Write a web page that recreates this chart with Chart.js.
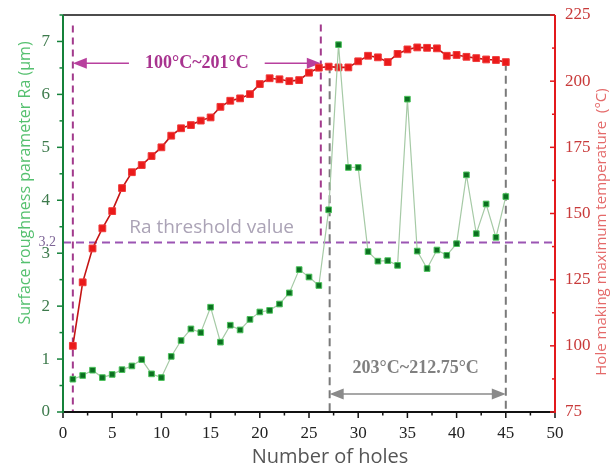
<!DOCTYPE html>
<html>
<head>
<meta charset="utf-8">
<script src="https://cdn.jsdelivr.net/npm/chart.js@4.4.1/dist/chart.umd.min.js"></script>
<style>
  body { margin: 0; background: #fff; }
  canvas { display: block; }
</style>
</head>
<body>
<canvas id="chart" width="613" height="470"></canvas>
<script>
// hole index
const holes = [1, 2, 3, 4, 5, 6, 7, 8, 9, 10, 11, 12, 13, 14, 15, 16, 17, 18, 19, 20,
  21, 22, 23, 24, 25, 26, 27, 28, 29, 30, 31, 32, 33, 34, 35, 36, 37, 38, 39, 40,
  41, 42, 43, 44, 45];

// surface roughness Ra (um), left axis
const roughness = [0.62, 0.69, 0.79, 0.65, 0.71, 0.80, 0.87, 0.99, 0.72, 0.65,
  1.05, 1.35, 1.57, 1.50, 1.98, 1.32, 1.64, 1.55, 1.75, 1.89,
  1.92, 2.04, 2.25, 2.69, 2.55, 2.39, 3.82, 6.94, 4.62, 4.62,
  3.03, 2.85, 2.86, 2.77, 5.91, 3.04, 2.71, 3.06, 2.96, 3.18,
  4.48, 3.37, 3.93, 3.30, 4.07];

// max hole-making temperature (°C), right axis
const temperature = [100, 124.0, 136.8, 144.4, 150.9, 159.6, 165.6, 168.3, 171.7, 175.0,
  179.4, 182.2, 183.4, 185.1, 186.3, 190.3, 192.6, 193.5, 195.1, 198.9,
  201.1, 200.7, 200.0, 200.4, 203.2, 205.1, 205.5, 205.2, 205.2, 207.5,
  209.6, 209.0, 207.2, 210.3, 212.0, 212.75, 212.6, 212.4, 209.6, 209.9,
  209.2, 208.7, 208.2, 208.0, 207.2];

const xTicks = [0, 5, 10, 15, 20, 25, 30, 35, 40, 45, 50];
const raTicks = [0, 1, 2, 3, 4, 5, 6, 7];
const tempTicks = [75, 100, 125, 150, 175, 200, 225];

// annotation values
const raThreshold = 3.2;
const heatingRange = [1, 26.2];
const stableRange = [27.1, 45];
const heatingLabel = '100°C~201°C';
const stableLabel = '203°C~212.75°C';

const SERIF = "'Liberation Serif', 'Times New Roman', serif";
const SANS = "'Open Sans', 'Noto Sans', sans-serif";

function line(ctx, x0, y0, x1, y1, color, width, dash) {
  ctx.save();
  ctx.strokeStyle = color;
  ctx.lineWidth = width;
  ctx.setLineDash(dash || []);
  ctx.beginPath();
  ctx.moveTo(x0, y0);
  ctx.lineTo(x1, y1);
  ctx.stroke();
  ctx.restore();
}

function arrowHead(ctx, tipX, y, dir, color) {
  ctx.save();
  ctx.fillStyle = color;
  ctx.beginPath();
  ctx.moveTo(tipX, y);
  ctx.lineTo(tipX + dir * 14, y - 5.5);
  ctx.lineTo(tipX + dir * 14, y + 5.5);
  ctx.closePath();
  ctx.fill();
  ctx.restore();
}

function text(ctx, str, x, y, font, color, rot) {
  ctx.save();
  ctx.translate(x, y);
  if (rot) ctx.rotate(rot);
  ctx.font = font;
  ctx.fillStyle = color;
  ctx.textAlign = 'center';
  ctx.textBaseline = 'middle';
  ctx.fillText(str, 0, 0);
  ctx.restore();
}

const decor = {
  id: 'decor',
  beforeDatasetsDraw(chart) {
    const { ctx, chartArea: a, scales: { x, y } } = chart;
    const purple = '#a23a8c';
    const grey = '#7a7a7a';

    // Ra threshold
    const yT = y.getPixelForValue(raThreshold);
    line(ctx, a.left, yT, a.right, yT, '#9b55b3', 2, [8, 5]);
    text(ctx, 'Ra threshold value', x.getPixelForValue(15.1), y.getPixelForValue(3.49),
      '19px ' + SANS, '#aba3b6');

    // heating stage
    const h0 = x.getPixelForValue(heatingRange[0]);
    const h1 = x.getPixelForValue(heatingRange[1]);
    line(ctx, h0, y.getPixelForValue(7.3), h0, a.bottom, purple, 2, [7, 5]);
    line(ctx, h1, y.getPixelForValue(7.32), h1, y.getPixelForValue(3.3), purple, 2, [7, 5]);
    const yA = y.getPixelForValue(6.59);
    const mid = (h0 + h1) / 2;
    ctx.font = 'bold 18px ' + SERIF;
    const hw = ctx.measureText(heatingLabel).width / 2 + 16;
    line(ctx, h0 + 10, yA, mid - hw, yA, '#b8409e', 1.5);
    line(ctx, mid + hw, yA, h1 - 10, yA, '#b8409e', 1.5);
    arrowHead(ctx, h0, yA, 1, '#b8409e');
    arrowHead(ctx, h1, yA, -1, '#b8409e');
    text(ctx, heatingLabel, mid, yA, 'bold 18px ' + SERIF, '#a8338f');

    // stable stage
    const s0 = x.getPixelForValue(stableRange[0]);
    const s1 = x.getPixelForValue(stableRange[1]);
    line(ctx, s0, y.getPixelForValue(6.55), s0, a.bottom, grey, 2, [8, 5]);
    line(ctx, s1, y.getPixelForValue(6.6), s1, a.bottom, grey, 2, [8, 5]);
    const yB = y.getPixelForValue(0.34);
    line(ctx, s0 + 10, yB, s1 - 10, yB, '#8a8a8a', 1.5);
    arrowHead(ctx, s0, yB, 1, '#8a8a8a');
    arrowHead(ctx, s1, yB, -1, '#8a8a8a');
    text(ctx, stableLabel, (s0 + s1) / 2 - 2, y.getPixelForValue(0.83), 'bold 18px ' + SERIF, '#808080');
  },
  afterDraw(chart) {
    const { ctx, chartArea: a, scales: { x, y, y1 } } = chart;
    const green = '#15823a';
    const red = '#e3191c';

    // frame
    line(ctx, a.left, a.top, a.right, a.top, '#111', 1.5);
    line(ctx, a.left, a.bottom, a.right, a.bottom, '#111', 2);

    // x ticks (major + minor)
    for (let v = 0; v <= 50; v += 2.5) {
      const px = x.getPixelForValue(v);
      line(ctx, px, a.bottom, px, a.bottom + (v % 5 === 0 ? 6 : 3.5), '#111', 1.5);
    }
    // left ticks
    for (let v = 0; v <= 7.5; v += 0.5) {
      const py = y.getPixelForValue(v);
      line(ctx, a.left, py, a.left - (v % 1 === 0 ? 6 : 3.5), py, green, 1.5);
    }
    // right ticks, pointing inward
    for (let v = 75; v <= 225; v += 12.5) {
      const py = y1.getPixelForValue(v);
      line(ctx, a.right, py, a.right - (v % 25 === 0 ? 5 : 3), py, red, 1.5);
    }
    line(ctx, a.left, a.top, a.left, a.bottom + 1, green, 2);
    line(ctx, a.right, a.top, a.right, a.bottom + 1, red, 2);

    // threshold value on the left axis
    ctx.save();
    ctx.font = '14px ' + SERIF;
    ctx.fillStyle = '#7d6496';
    ctx.textAlign = 'right';
    ctx.textBaseline = 'middle';
    ctx.fillText('3.2', a.left - 7, y.getPixelForValue(raThreshold));
    ctx.restore();

    // axis titles
    text(ctx, 'Surface roughness parameter Ra (μm)', 25, 183, '16px ' + SANS, '#55c06f', -Math.PI / 2);
    text(ctx, 'Hole making maximum temperature  (°C)', 602, 232, '15px ' + SANS, '#e46a6a', -Math.PI / 2);
    text(ctx, 'Number of holes', 330, 457, '20px ' + SANS, '#555', 0);
  }
};

const fixedTicks = list => scale => { scale.ticks = list.map(v => ({ value: v })); };
const noGrid = { display: false, drawTicks: false };

new Chart(document.getElementById('chart'), {
  type: 'line',
  data: {
    datasets: [{
      label: 'Ra',
      data: holes.map((h, i) => ({ x: h, y: roughness[i] })),
      yAxisID: 'y',
      borderColor: '#a6caa6',
      borderWidth: 1.2,
      pointStyle: 'rect',
      pointRadius: 4,
      pointBackgroundColor: '#0b6f20',
      pointBorderColor: '#4cc25c',
      pointBorderWidth: 1
    }, {
      label: 'Temperature',
      data: holes.map((h, i) => ({ x: h, y: temperature[i] })),
      yAxisID: 'y1',
      borderColor: '#c41414',
      borderWidth: 1.6,
      pointStyle: 'rect',
      pointRadius: 4.8,
      pointBackgroundColor: '#ea1a1a',
      pointBorderColor: '#f03a3a',
      pointBorderWidth: 1
    }]
  },
  options: {
    responsive: false,
    animation: false,
    devicePixelRatio: 1,
    layout: { padding: { top: 15 } },
    plugins: { legend: { display: false }, tooltip: { enabled: false } },
    scales: {
      x: {
        type: 'linear', min: 0, max: 50,
        grid: noGrid, border: { display: false },
        afterBuildTicks: fixedTicks(xTicks),
        afterFit: s => { s.height = 58; s.paddingLeft = 0; s.paddingRight = 0; },
        ticks: { color: '#222', font: { family: SERIF, size: 17 }, padding: 11, maxRotation: 0, autoSkip: false }
      },
      y: {
        position: 'left', min: 0, max: 7.5,
        grid: noGrid, border: { display: false },
        afterBuildTicks: fixedTicks(raTicks),
        afterFit: s => { s.width = 63; s.paddingTop = 0; s.paddingBottom = 0; },
        ticks: { color: '#3d7a4c', font: { family: SERIF, size: 17 }, padding: 13 }
      },
      y1: {
        position: 'right', min: 75, max: 225,
        grid: noGrid, border: { display: false },
        afterBuildTicks: fixedTicks(tempTicks),
        afterFit: s => { s.width = 58; s.paddingTop = 0; s.paddingBottom = 0; },
        ticks: { color: '#c83a3a', font: { family: SERIF, size: 17 }, padding: 10 }
      }
    }
  },
  plugins: [decor]
});
</script>
</body>
</html>
